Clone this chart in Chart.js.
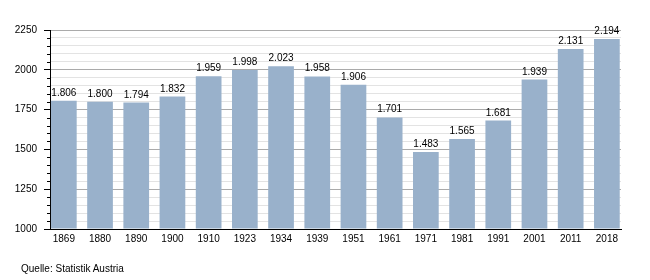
<!DOCTYPE html>
<html>
<head>
<meta charset="utf-8">
<script src="https://cdn.jsdelivr.net/npm/chart.js@4/dist/chart.umd.min.js"></script>
<style>
  html, body { margin: 0; padding: 0; background: #fff; }
  #wrap { position: relative; width: 650px; height: 280px; }
  #source {
    position: absolute; left: 21px; top: 263px;
    font: 10px "Liberation Sans", Arial, sans-serif; color: #000;
  }
</style>
</head>
<body>
<div id="wrap">
  <canvas id="chartPopulation" width="650" height="280"></canvas>
  <div id="source">Quelle: Statistik Austria</div>
</div>
<script>
// census years and population (rendered as German numbers)
const years = ['1869', '1880', '1890', '1900', '1910', '1923', '1934', '1939',
               '1951', '1961', '1971', '1981', '1991', '2001', '2011', '2018'];
const population = [1806, 1800, 1794, 1832, 1959, 1998, 2023, 1958,
                    1906, 1701, 1483, 1565, 1681, 1939, 2131, 2194];
const yTicks = [1000, 1250, 1500, 1750, 2000, 2250];

const FONT = '"Liberation Sans", Arial, sans-serif';

function formatDe(v) {
  return String(v).replace(/\B(?=(\d{3})+(?!\d))/g, '.');
}

// value labels on top of every bar
const valueLabels = {
  id: 'valueLabels',
  afterDatasetsDraw(chart) {
    const ctx = chart.ctx;
    const meta = chart.getDatasetMeta(0);
    ctx.save();
    ctx.font = '10px ' + FONT;
    ctx.fillStyle = '#000';
    ctx.textAlign = 'center';
    ctx.textBaseline = 'alphabetic';
    meta.data.forEach((bar, i) => {
      ctx.fillText(formatDe(population[i]), bar.x, bar.y - 5);
    });
    ctx.restore();
  }
};

// short minor ticks on the y axis (every 50)
const minorTicks = {
  id: 'minorTicks',
  afterDraw(chart) {
    const y = chart.scales.y;
    const ctx = chart.ctx;
    const left = chart.chartArea.left;
    ctx.save();
    ctx.strokeStyle = '#000';
    ctx.lineWidth = 1;
    y.ticks.forEach(t => {
      if (yTicks.includes(t.value)) return;
      const py = Math.round(y.getPixelForValue(t.value)) + 0.5;
      ctx.beginPath();
      ctx.moveTo(left - 3, py);
      ctx.lineTo(left, py);
      ctx.stroke();
    });
    ctx.restore();
  }
};

const ctx = document.getElementById('chartPopulation').getContext('2d');

new Chart(ctx, {
  type: 'bar',
  data: {
    datasets: [{
      data: years.map((_, i) => ({ x: i, y: population[i] })),
      backgroundColor: '#99b1cb',
      borderWidth: 0,
      base: 1000,
      barPercentage: 0.71,
      categoryPercentage: 1
    }]
  },
  options: {
    responsive: false,
    animation: false,
    layout: {
      padding: { left: 0, right: 29, top: 30, bottom: 30 }
    },
    plugins: {
      legend: { display: false },
      tooltip: { enabled: false }
    },
    scales: {
      x: {
        type: 'linear',
        offset: false,
        min: -0.382,
        max: 15.39,
        afterBuildTicks: (scale) => {
          scale.ticks = years.map((_, i) => ({ value: i }));
        },
        afterFit: (scale) => { scale.height = 21; },
        grid: { display: false, drawTicks: false },
        border: { color: '#000', width: 1 },
        ticks: {
          autoSkip: false,
          maxRotation: 0,
          padding: 4,
          color: '#000',
          font: { family: FONT, size: 10 },
          callback: (v) => years[v]
        }
      },
      y: {
        min: 1000,
        max: 2250,
        afterFit: (scale) => { scale.width = 50; },
        ticks: {
          stepSize: 50,
          autoSkip: false,
          padding: 7,
          color: '#000',
          font: { family: FONT, size: 10 },
          callback: (v) => yTicks.includes(v) ? String(v) : ''
        },
        grid: {
          color: (c) => yTicks.includes(c.tick.value) ? '#aaaaaa' : '#e3e3e3',
          tickColor: (c) => yTicks.includes(c.tick.value) ? '#000' : 'rgba(0,0,0,0)',
          tickLength: 6,
          lineWidth: 1
        },
        border: { color: '#000', width: 1 }
      }
    }
  },
  plugins: [valueLabels, minorTicks]
});
</script>
</body>
</html>
